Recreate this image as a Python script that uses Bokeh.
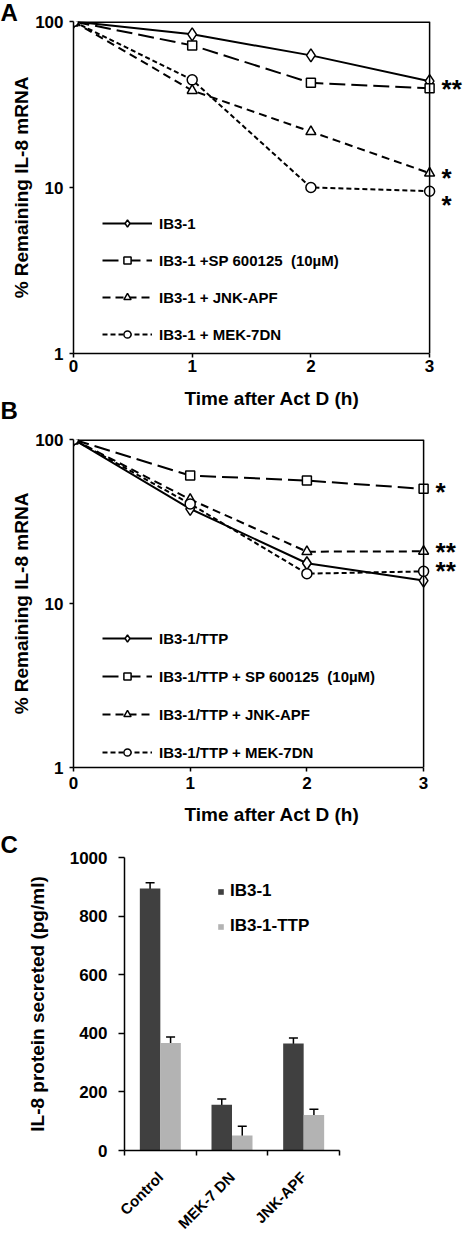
import numpy as np
from bokeh.plotting import figure
from bokeh.models import (Range1d, FixedTicker, PrintfTickFormatter, Legend, LegendItem,
                          Label, Whisker, ColumnDataSource, TeeHead, Span, Title)
from bokeh.embed import file_html
from bokeh.resources import INLINE

FONT = "Liberation Sans"

# ---------------- data ----------------
time_h = [0, 1, 2, 3]
log_ticks = [1, 10, 100]

a_ib3 = [100, 83.7, 62.5, 43.7]
a_sp = [100, 71.8, 42.7, 39.6]
a_jnk = [100, 38.4, 21.7, 12.2]
a_mek = [100, 44.5, 10.0, 9.5]
a_labels = ["IB3-1", "IB3-1 +SP 600125  (10µM)", "IB3-1 + JNK-APF", "IB3-1 + MEK-7DN"]
a_stars = ["", "**", "*", "*"]

b_ttp = [100, 37.8, 17.6, 13.8]
b_sp = [100, 60.3, 56.2, 50.0]
b_jnk = [100, 43.1, 20.7, 20.8]
b_mek = [100, 40.5, 15.2, 15.7]
b_labels = ["IB3-1/TTP", "IB3-1/TTP + SP 600125  (10µM)", "IB3-1/TTP + JNK-APF", "IB3-1/TTP + MEK-7DN"]
b_stars = ["", "*", "**", "**"]

c_categories = ["Control", "MEK-7 DN", "JNK-APF"]
c_series = ["IB3-1", "IB3-1-TTP"]
c_ib3 = [894, 156, 365]
c_ib3_err = [20, 20, 19]
c_ttp = [367, 51, 121]
c_ttp_err = [20, 32, 20]
c_ticks = [0, 200, 400, 600, 800, 1000]

# ---------------- styles ----------------
markers = ["diamond", "square", "triangle", "circle"]
marker_sizes = [13, 9, 10, 10]
legend_marker_sizes = [8, 7, 7, 7]
dashes = ["solid", "16 6", "8 5", "5 3"]
W = 470


def style_common(p):
    p.outline_line_color = None
    p.xgrid.grid_line_color = None
    p.ygrid.grid_line_color = None
    p.background_fill_color = "white"
    p.border_fill_color = "white"
    for ax in p.axis:
        ax.axis_line_color = "black"
        ax.axis_line_width = 1.5
        ax.major_tick_line_color = "black"
        ax.major_tick_line_width = 1.5
        ax.major_tick_in = 0
        ax.minor_tick_line_color = None
        ax.major_label_text_font = FONT
        ax.major_label_text_font_style = "bold"
        ax.major_label_text_font_size = "17px"
        ax.major_label_text_color = "black"
        ax.axis_label_text_font = FONT
        ax.axis_label_text_font_style = "bold"
        ax.axis_label_text_font_size = "19px"
        ax.axis_label_text_color = "black"


def add_letter(p, letter, border_left, standoff, place="above", valign="bottom"):
    t = Title(text=letter, align="left", offset=-border_left, vertical_align=valign,
              text_font=FONT, text_font_style="bold", text_font_size="24px",
              text_color="black")
    try:
        t.standoff = standoff
    except Exception:
        t.standoff = max(standoff, 0)
    p.add_layout(t, place)


def log_panel(height, top, bottom, px_per_h, series, labels, stars, star_dy,
              legend_y, legend_spacing, label_standoff, title_standoff):
    left = 73
    frame_w = W - left
    p = figure(width=W, height=height, y_axis_type="log",
               x_range=Range1d(0, frame_w / px_per_h), y_range=Range1d(1, 100),
               output_backend="svg", toolbar_location=None,
               min_border_left=left, min_border_right=0,
               min_border_top=top, min_border_bottom=bottom)
    style_common(p)
    p.xaxis.ticker = FixedTicker(ticks=time_h)
    p.xaxis.bounds = (time_h[0], time_h[-1])
    p.yaxis.ticker = FixedTicker(ticks=log_ticks)
    p.yaxis.formatter = PrintfTickFormatter(format="%d")
    p.xaxis.major_tick_out = 4
    p.yaxis.major_tick_out = 4
    p.xaxis.major_label_standoff = label_standoff
    p.yaxis.major_label_standoff = 6
    p.xaxis.axis_label = "Time after Act D (h)"
    p.yaxis.axis_label = "% Remaining IL-8 mRNA"
    p.xaxis.axis_label_standoff = title_standoff
    p.yaxis.axis_label_standoff = 0

    # plot box: right and top edges (left/bottom are the axes)
    p.add_layout(Span(location=time_h[-1], dimension="height", line_color="black", line_width=1.5))
    p.segment(x0=[time_h[0]], x1=[time_h[-1]], y0=[log_ticks[-1]], y1=[log_ticks[-1]],
              line_color="black", line_width=3)

    line_rs = []
    for vals, dash in zip(series, dashes):
        line_rs.append(p.line(time_h, vals, line_color="black", line_width=2, line_dash=dash))
    # small markers (used for the legend keys), covered by the plotted markers
    small_rs = []
    for vals, mk, ms in zip(series, markers, legend_marker_sizes):
        small_rs.append(p.scatter(time_h, vals, marker=mk, size=ms, fill_color="white",
                                  line_color="black", line_width=1.5))
    items = []
    for rl, rsm, vals, mk, ms, lab in zip(line_rs, small_rs, series, markers, marker_sizes, labels):
        p.scatter(time_h, vals, marker=mk, size=ms, fill_color="white",
                  line_color="black", line_width=1.5)
        items.append(LegendItem(label=lab, renderers=[rl, rsm]))

    leg = Legend(items=items, location=(29, legend_y), orientation="vertical",
                 label_text_font=FONT, label_text_font_style="bold",
                 label_text_font_size="15px", label_text_color="black",
                 glyph_width=50, glyph_height=18, label_height=18,
                 label_standoff=7, spacing=legend_spacing, padding=0, margin=0,
                 border_line_color=None, background_fill_alpha=0)
    p.add_layout(leg)

    for vals, st, dy in zip(series, stars, star_dy):
        if st:
            p.add_layout(Label(x=time_h[-1], y=vals[-1], text=st, x_offset=12, y_offset=dy,
                               text_baseline="middle", text_align="left",
                               text_font=FONT, text_font_style="bold",
                               text_font_size="26px", text_color="black"))
    return p


pA = log_panel(428, 0, 75, 118.7, [a_ib3, a_sp, a_jnk, a_mek], a_labels, a_stars,
               [0, -1, -5, -14], 10, 19, 2, 13)
add_letter(pA, "A", 73, -8, "above", "bottom")
add_letter(pA, "B", 73, -29, "below", "top")

pB = log_panel(401, 11, 62, 116.7, [b_ttp, b_sp, b_jnk, b_mek], b_labels, b_stars,
               [0, -3, -1, 0], 6, 20, 5, 12)

# ---------------- panel C ----------------
xc = np.arange(len(c_categories)) + 0.5
off = 0.143
src1 = ColumnDataSource(dict(x=xc - off, top=c_ib3,
                             lo=np.array(c_ib3) - np.array(c_ib3_err),
                             hi=np.array(c_ib3) + np.array(c_ib3_err)))
src2 = ColumnDataSource(dict(x=xc + off, top=c_ttp,
                             lo=np.array(c_ttp) - np.array(c_ttp_err),
                             hi=np.array(c_ttp) + np.array(c_ttp_err)))

pC = figure(width=W, height=411, x_range=Range1d(0, 3), y_range=Range1d(0, 1000),
            output_backend="svg", toolbar_location=None,
            min_border_left=124, min_border_right=131, min_border_top=0,
            min_border_bottom=89)
style_common(pC)
r1 = pC.vbar(x="x", top="top", width=0.286, source=src1, fill_color="#404040", line_color=None)
r2 = pC.vbar(x="x", top="top", width=0.286, source=src2, fill_color="#b3b3b3", line_color=None)
for s in (src1, src2):
    pC.add_layout(Whisker(source=s, base="x", upper="hi", lower="lo", line_width=1.5,
                          line_color="black",
                          upper_head=TeeHead(size=9, line_width=1.5, line_color="black"),
                          lower_head=TeeHead(size=9, line_width=1.5, line_color="black")))

pC.yaxis.ticker = FixedTicker(ticks=c_ticks)
pC.yaxis.major_tick_out = 6
pC.yaxis.major_label_standoff = 11
pC.yaxis.axis_label = "IL-8 protein secreted (pg/ml)"
pC.yaxis.axis_label_standoff = 19

pC.xaxis.ticker = FixedTicker(ticks=list(xc), minor_ticks=list(range(len(c_categories) + 1)))
pC.xaxis.major_label_overrides = {float(x): c for x, c in zip(xc, c_categories)}
pC.xaxis.major_tick_line_color = None
pC.xaxis.major_tick_out = 0
pC.xaxis.minor_tick_line_color = "black"
pC.xaxis.minor_tick_line_width = 1.5
pC.xaxis.minor_tick_out = 5
pC.xaxis.minor_tick_in = 0
pC.xaxis.major_label_orientation = np.pi / 4
pC.xaxis.major_label_standoff = 19
pC.xaxis.major_label_text_font_size = "15px"

legC = Legend(items=[LegendItem(label=c_series[0], renderers=[r1]),
                     LegendItem(label=c_series[1], renderers=[r2])],
              location=(93, 214), label_text_font=FONT, label_text_font_style="bold",
              label_text_font_size="17px", label_text_color="black",
              glyph_width=7, glyph_height=7, label_height=20, label_standoff=6,
              spacing=15, padding=0, margin=0, border_line_color=None,
              background_fill_alpha=0)
pC.add_layout(legC)
add_letter(pC, "C", 124, -1, "above", "bottom")

open("out.html", "w").write(file_html([pA, pB, pC], INLINE))
